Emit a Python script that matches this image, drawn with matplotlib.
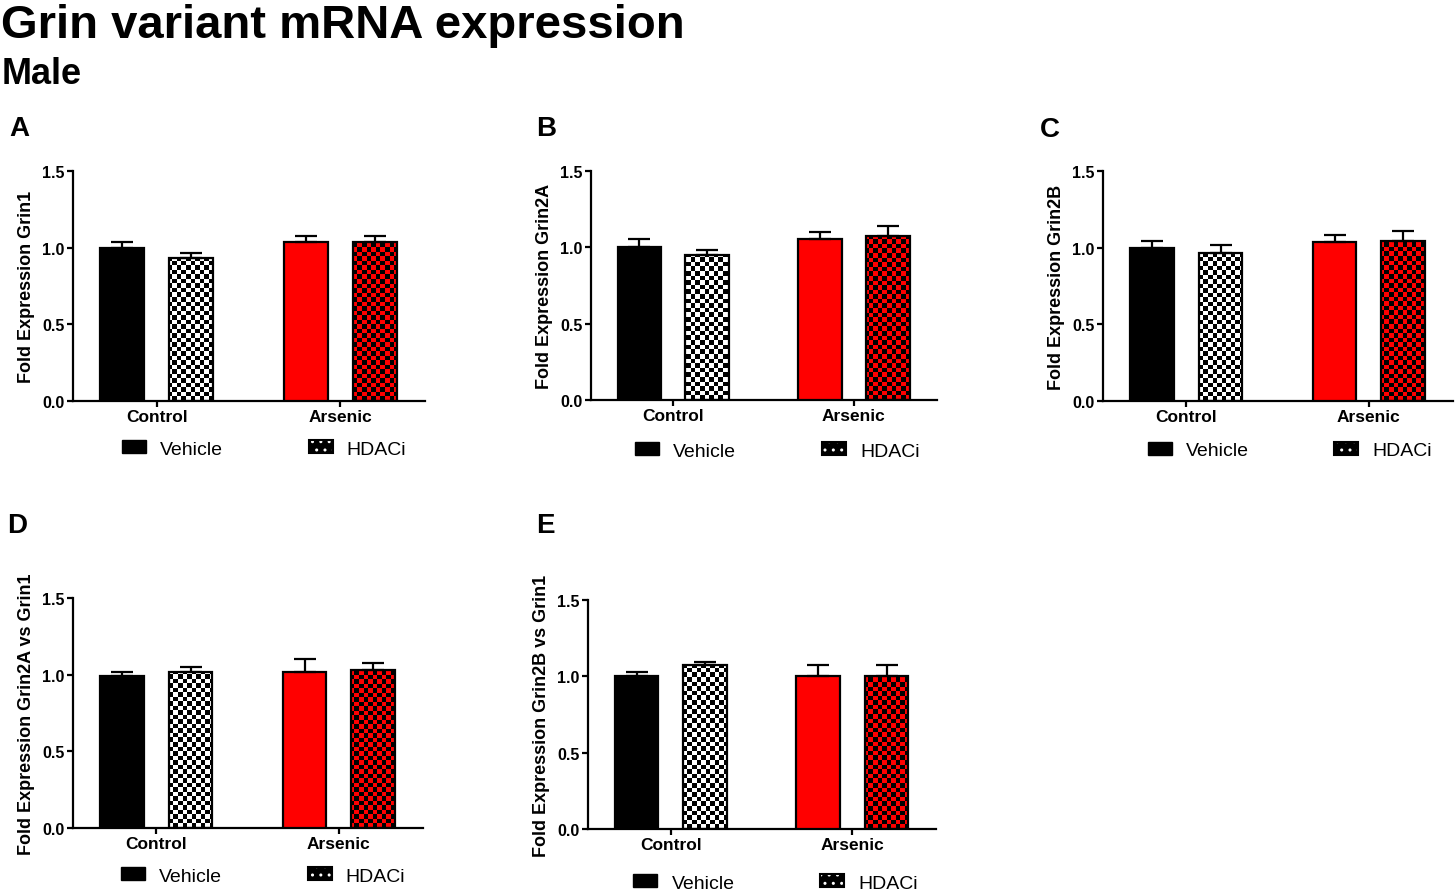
import matplotlib
matplotlib.use("Agg")
import matplotlib.pyplot as plt
from matplotlib.patches import Patch
import numpy as np

plt.rcParams['font.family'] = ['Liberation Sans', 'DejaVu Sans']

# data
groups = ["Control", "Arsenic"]
treatments = ["Vehicle", "HDACi"]
panel_letters = ["A", "B", "C", "D", "E"]
ylabels = ["Fold Expression Grin1", "Fold Expression Grin2A", "Fold Expression Grin2B",
           "Fold Expression Grin2A vs Grin1", "Fold Expression Grin2B vs Grin1"]
# order: control-vehicle, control-HDACi, arsenic-vehicle, arsenic-HDACi
means_A = [1.00, 0.93, 1.035, 1.035]
sem_A = [0.037, 0.035, 0.038, 0.043]
means_B = [1.00, 0.95, 1.053, 1.077]
sem_B = [0.053, 0.035, 0.050, 0.063]
means_C = [1.00, 0.965, 1.035, 1.045]
sem_C = [0.045, 0.052, 0.047, 0.065]
means_D = [0.99, 1.02, 1.02, 1.03]
sem_D = [0.030, 0.032, 0.080, 0.045]
means_E = [1.00, 1.075, 1.005, 1.005]
sem_E = [0.027, 0.022, 0.072, 0.068]
yticks = [0.0, 0.5, 1.0, 1.5]

all_means = [means_A, means_B, means_C, means_D, means_E]
all_sem = [sem_A, sem_B, sem_C, sem_D, sem_E]

W, H = 1455, 895
fig = plt.figure(figsize=(W / 100, H / 100), dpi=100)

# axes boxes in pixels: left, right, top, bottom
boxes = [(73, 425, 172, 402), (591, 937, 172, 401), (1103, 1453, 172, 402),
         (73, 423, 599, 829), (588, 936, 601, 830)]
letter_pos = [(9, 136), (536, 136), (1040, 137), (7, 533), (536, 533)]
legend_pos = [(0.543, -0.209), (0.539, -0.223), (0.534, -0.217), (0.543, -0.209), (0.539, -0.236)]

RED = "#ff0000"
offset = 0.188
width = 0.24
cell = 4.5  # px of a checker square


def checker(nr, nc, c1, c2):
    img = np.zeros((nr, nc, 3))
    a = np.array(matplotlib.colors.to_rgb(c1))
    b = np.array(matplotlib.colors.to_rgb(c2))
    for i in range(nr):
        for j in range(nc):
            img[i, j] = a if (i + j) % 2 == 0 else b
    return img


for k in range(5):
    l, r, t, b = boxes[k]
    ax = fig.add_axes([l / W, (H - b) / H, (r - l) / W, (b - t) / H])
    xs = []
    for g in range(2):
        xs += [g - offset, g + offset]
    faces = ["black", "none", RED, "none"]
    xlim = (-0.455, 1.46)
    ylim = (0, 1.5)

    # checker fill for HDACi bars, clipped to the bar shape
    nc = int((r - l) / cell)
    nr = int((b - t) / cell)
    for i, col in [(1, "white"), (3, RED)]:
        bar = ax.bar(xs[i], all_means[k][i], width=width, color="none",
                     edgecolor="none", zorder=2)[0]
        im = ax.imshow(checker(nr, nc, "black", col), extent=(xlim[0], xlim[1], 0, 1.5),
                       origin="lower", interpolation="nearest", aspect="auto", zorder=2)
        im.set_clip_path(bar)

    ax.bar(xs, all_means[k], width=width, color=faces, edgecolor="black",
           linewidth=1.6, zorder=3)
    ax.errorbar(xs, all_means[k], yerr=[[0] * 4, all_sem[k]], fmt="none",
                ecolor="black", elinewidth=1.6, capsize=8, capthick=1.6, zorder=4)

    ax.set_xlim(*xlim)
    ax.set_ylim(*ylim)
    ax.set_yticks(yticks)
    ax.set_yticklabels(["%.1f" % v for v in yticks], fontsize=11.5, fontweight="bold")
    ax.set_xticks([0, 1])
    ax.set_xticklabels(groups, fontsize=12.5, fontweight="bold")
    ax.set_ylabel(ylabels[k], fontsize=13, fontweight="bold", labelpad=5)
    for s in ["top", "right"]:
        ax.spines[s].set_visible(False)
    for s in ["left", "bottom"]:
        ax.spines[s].set_linewidth(1.6)
    ax.tick_params(width=1.6, length=4, pad=2)

    hd = (Patch(facecolor="black", edgecolor="white", hatch="..", linewidth=0),
          Patch(facecolor="none", edgecolor="black", linewidth=1.5))
    handles = [Patch(facecolor="black", edgecolor="black"), hd]
    ax.legend(handles, treatments, ncol=2, loc="center", bbox_to_anchor=legend_pos[k],
              frameon=False, fontsize=14, handlelength=1.24, handleheight=0.62,
              handletextpad=0.72, columnspacing=4.4)

    lx, ly = letter_pos[k]
    fig.text(lx / W, 1 - ly / H, panel_letters[k], fontsize=20, fontweight="bold",
             va="baseline", ha="left")

fig.text(1 / W, 1 - 38 / H, "Grin variant mRNA expression", fontsize=34,
         fontweight="bold", va="baseline", ha="left")
fig.text(2 / W, 1 - 84 / H, "Male", fontsize=26, fontweight="bold",
         va="baseline", ha="left")

fig.savefig("out.png", dpi=100)
